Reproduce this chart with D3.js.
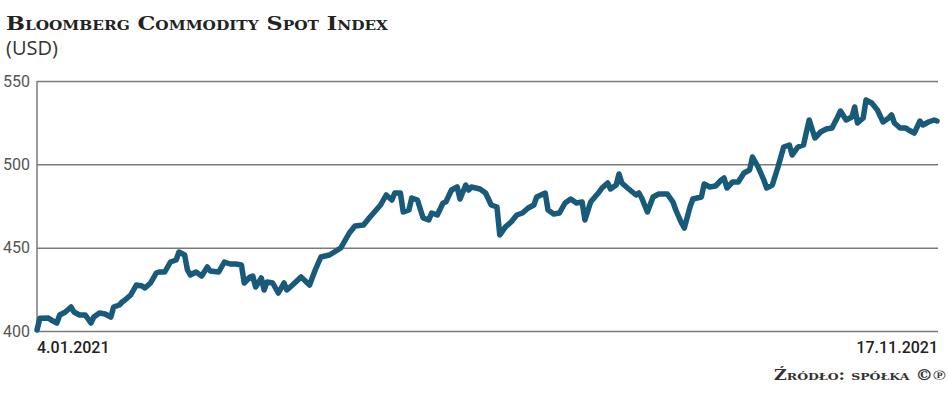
<!DOCTYPE html>
<html>
<head>
<meta charset="utf-8">
<script src="https://cdn.jsdelivr.net/npm/d3@7"></script>
<style>
	html, body { margin: 0; padding: 0; background: #fff; }
	svg { display: block; }
</style>
</head>
<body>
<div id="chart"></div>
<script>
var dates = [
	'2021-01-04','2021-01-05','2021-01-08','2021-01-09','2021-01-11','2021-01-12','2021-01-14','2021-01-16','2021-01-17','2021-01-19',
	'2021-01-21','2021-01-23','2021-01-24','2021-01-26','2021-01-28','2021-01-30','2021-01-31','2021-02-02','2021-02-03','2021-02-04',
	'2021-02-06','2021-02-08','2021-02-10','2021-02-11','2021-02-13','2021-02-15','2021-02-16','2021-02-18','2021-02-20','2021-02-22',
	'2021-02-23','2021-02-25','2021-02-26','2021-02-27','2021-03-01','2021-03-03','2021-03-05','2021-03-06','2021-03-09','2021-03-11',
	'2021-03-13','2021-03-15','2021-03-17','2021-03-18','2021-03-20','2021-03-21','2021-03-22','2021-03-24','2021-03-25','2021-03-26',
	'2021-03-28','2021-03-30','2021-04-01','2021-04-02','2021-04-04','2021-04-07','2021-04-10','2021-04-12','2021-04-14','2021-04-17',
	'2021-04-21','2021-04-24','2021-04-26','2021-04-29','2021-05-01','2021-05-05','2021-05-07','2021-05-09','2021-05-10','2021-05-12',
	'2021-05-13','2021-05-15','2021-05-16','2021-05-18','2021-05-20','2021-05-22','2021-05-23','2021-05-25','2021-05-27','2021-05-28',
	'2021-05-30','2021-06-01','2021-06-02','2021-06-04','2021-06-05','2021-06-06','2021-06-09','2021-06-11','2021-06-13','2021-06-15',
	'2021-06-16','2021-06-18','2021-06-20','2021-06-22','2021-06-24','2021-06-26','2021-06-28','2021-06-29','2021-07-02','2021-07-03',
	'2021-07-05','2021-07-07','2021-07-09','2021-07-11','2021-07-13','2021-07-15','2021-07-16','2021-07-18','2021-07-21','2021-07-22',
	'2021-07-24','2021-07-25','2021-07-27','2021-07-28','2021-07-29','2021-07-31','2021-08-03','2021-08-04','2021-08-05','2021-08-07',
	'2021-08-09','2021-08-11','2021-08-14','2021-08-16','2021-08-17','2021-08-19','2021-08-20','2021-08-22','2021-08-23','2021-08-26',
	'2021-08-27','2021-08-29','2021-08-31','2021-09-02','2021-09-03','2021-09-04','2021-09-06','2021-09-08','2021-09-10','2021-09-12',
	'2021-09-13','2021-09-15','2021-09-17','2021-09-18','2021-09-20','2021-09-22','2021-09-24','2021-09-26','2021-09-27','2021-09-29',
	'2021-10-01','2021-10-02','2021-10-03','2021-10-05','2021-10-07','2021-10-09','2021-10-11','2021-10-13','2021-10-14','2021-10-16',
	'2021-10-18','2021-10-19','2021-10-20','2021-10-22','2021-10-23','2021-10-25','2021-10-27','2021-10-29','2021-10-31','2021-11-01',
	'2021-11-02','2021-11-04','2021-11-06','2021-11-07','2021-11-09','2021-11-11','2021-11-12','2021-11-14','2021-11-16','2021-11-17'
];

var values = [
	400.6, 407.6, 407.8, 406.6, 404.8, 409.6, 411.4, 414.4, 411.4, 409.6,
	409.6, 404.8, 408.4, 410.8, 410.2, 408.4, 414.4, 415.6, 417.4, 418.6,
	421.6, 427.6, 427.0, 425.8, 428.8, 434.8, 435.4, 435.4, 441.4, 442.6,
	447.4, 445.6, 436.6, 433.6, 435.4, 433.0, 438.4, 436.0, 435.4, 441.4,
	440.2, 440.2, 439.6, 428.8, 432.4, 433.0, 426.4, 431.8, 424.6, 429.4,
	428.8, 422.8, 428.8, 424.6, 427.6, 432.4, 427.6, 436.6, 444.4, 445.6,
	449.8, 458.8, 463.0, 463.6, 467.8, 475.6, 481.6, 478.6, 482.8, 482.8,
	471.4, 472.6, 479.8, 478.6, 467.8, 466.6, 470.8, 469.6, 476.8, 477.4,
	484.6, 486.4, 479.2, 487.6, 484.6, 486.4, 485.2, 482.8, 475.6, 474.4,
	457.6, 462.5, 465.4, 469.6, 470.8, 473.8, 475.6, 480.4, 482.8, 472.6,
	470.2, 470.8, 476.8, 479.2, 476.8, 477.4, 466.6, 477.4, 483.4, 485.8,
	488.8, 485.2, 487.6, 494.2, 488.8, 485.8, 481.6, 482.8, 479.8, 471.4,
	480.4, 482.2, 482.2, 477.4, 472.6, 464.8, 461.8, 474.4, 479.2, 480.4,
	488.2, 486.4, 487.0, 490.6, 491.8, 485.8, 489.4, 489.4, 494.8, 496.6,
	504.4, 498.4, 490.6, 485.8, 487.6, 498.4, 510.4, 511.6, 505.6, 510.4,
	511.6, 519.4, 526.6, 515.8, 519.4, 521.2, 521.8, 528.4, 532.0, 526.6,
	528.4, 534.4, 524.8, 527.8, 538.6, 536.8, 532.6, 525.4, 527.8, 529.6,
	524.8, 521.8, 521.8, 520.6, 518.8, 526.0, 523.6, 525.4, 526.6, 526.0
];

var yTicks = [400, 450, 500, 550];
var dateLabels = ['4.01.2021', '17.11.2021'];
var title = 'Bloomberg Commodity Spot Index';
var unit = '(USD)';
var source = 'Źródło: spółka ©℗';

(function ()	{
	'use strict';

	var width = 948,
			height = 399,
			margin = { top: 81, right: 10, bottom: 68, left: 37 };

	var parse = d3.timeParse('%Y-%m-%d');
	var data = dates.map(function (d, i)	{
		return { date: parse(d), value: values[i] };
	});

	var x = d3.scaleTime()
						.domain([data[0].date, data[data.length - 1].date])
						.range([margin.left, width - margin.right - 1]);
	var y = d3.scaleLinear()
						.domain([400, 550])
						.range([height - margin.bottom, margin.top]);

	var svg = d3.select('#chart').append('svg')
							.attr('width', width)
							.attr('height', height);

	// title
	svg.append('text')
		 .attr('x', 6)
		 .attr('y', 30)
		 .attr('textLength', 382)
		 .attr('lengthAdjust', 'spacingAndGlyphs')
		 .style('font-family', '"DejaVu Serif", serif')
		 .style('font-weight', 'bold')
		 .style('font-variant', 'small-caps')
		 .style('font-size', '19px')
		 .style('fill', '#222')
		 .text(title);

	svg.append('text')
		 .attr('x', 6)
		 .attr('y', 55)
		 .style('font-family', '"Open Sans", sans-serif')
		 .style('font-size', '20px')
		 .style('fill', '#333')
		 .text(unit);

	// grid lines
	var yaxis = d3.axisLeft(y)
								.tickValues(yTicks)
								.tickSize(-(width - margin.left - margin.right));

	var gy = svg.append('g')
							.attr('transform', 'translate(' + margin.left + ', 0)')
							.call(yaxis);

	gy.select('.domain').remove();
	gy.selectAll('.tick line')
		.style('stroke', '#7a7a7a')
		.style('stroke-width', 1.5);
	gy.selectAll('.tick text')
		.attr('x', -7)
		.style('font-family', 'Roboto, sans-serif')
		.style('font-size', '16px')
		.style('fill', '#555');

	svg.append('line')
		 .attr('x1', margin.left).attr('x2', margin.left)
		 .attr('y1', y(550)).attr('y2', y(400))
		 .style('stroke', '#7a7a7a')
		 .style('stroke-width', 1.5);

	// series
	var line = d3.line()
							 .x(function (d) { return x(d.date); })
							 .y(function (d) { return y(d.value); });

	svg.append('path')
		 .datum(data)
		 .attr('d', line)
		 .style('fill', 'none')
		 .style('stroke', '#175a7a')
		 .style('stroke-width', 5.5)
		 .style('stroke-linejoin', 'round')
		 .style('stroke-linecap', 'round');

	// date labels
	svg.append('text')
		 .attr('x', margin.left)
		 .attr('y', 353)
		 .style('font-family', 'Roboto, sans-serif')
		 .style('font-weight', 500)
		 .style('font-size', '16px')
		 .style('fill', '#222')
		 .text(dateLabels[0]);

	svg.append('text')
		 .attr('x', width - margin.right)
		 .attr('y', 353)
		 .attr('text-anchor', 'end')
		 .style('font-family', 'Roboto, sans-serif')
		 .style('font-weight', 500)
		 .style('font-size', '16px')
		 .style('fill', '#222')
		 .text(dateLabels[1]);

	// source
	svg.append('text')
		 .attr('x', 774)
		 .attr('y', 380)
		 .attr('textLength', 172)
		 .attr('lengthAdjust', 'spacingAndGlyphs')
		 .style('font-family', '"DejaVu Serif", serif')
		 .style('font-weight', 'bold')
		 .style('font-variant', 'small-caps')
		 .style('font-size', '14px')
		 .style('fill', '#333')
		 .text(source);
}());
</script>
</body>
</html>
